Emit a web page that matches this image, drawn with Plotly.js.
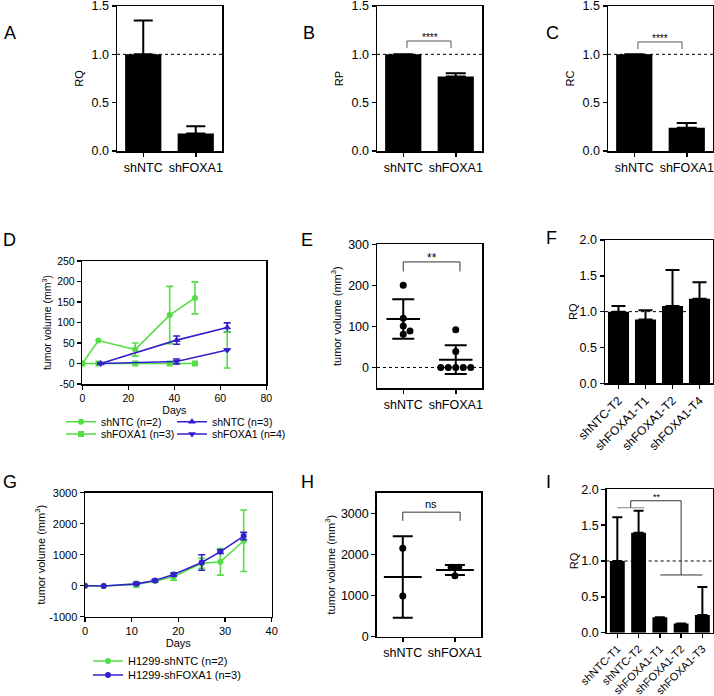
<!DOCTYPE html>
<html><head><meta charset="utf-8">
<script src="https://cdn.plot.ly/plotly-3.0.1.min.js"></script>
<style>html,body{margin:0;padding:0;background:#fff}#chart{width:714px;height:696px}</style>
</head><body><div id="chart"></div>
<script>
// ---------------- data ----------------
const catsABC = ['shNTC', 'shFOXA1'];
const rqA = [1.0, 0.18];
const rqAErr = [0.35, 0.075];
const rpB = [1.0, 0.77];
const rpBErr = [0, 0.035];
const rcC = [1.0, 0.24];
const rcCErr = [0, 0.05];
const ticksRQ = [0, 0.5, 1.0, 1.5];

const daysDgreen = [0, 7, 23, 38, 49];
const volDntc2 = [0, 56, 34, 118, 160];
const errDntc2 = [0, 0, 16, 70, 39];
const volDfoxa3 = [0, 0, 0, 0, 0];
const daysDblue = [8, 41, 63];
const volDntc3 = [0, 57, 88];
const errDntc3 = [2, 10, 11];
const volDfoxa4 = [0, 5, 33];
const errDfoxa4 = [2, 6, 44];
const namesD = ['shNTC (n=2)', 'shFOXA1 (n=3)', 'shNTC (n=3)', 'shFOXA1 (n=4)'];
const ticksDx = [0, 20, 40, 60, 80];
const ticksDy = [-50, 0, 50, 100, 150, 200, 250];

const catsEH = ['shNTC', 'shFOXA1'];
const volEntc = [200, 120, 101, 81, 89];
const volEfoxa = [92, 39, 0, 0, 0, 0, 0];
const meanE = [118, 19];
const sdE = [48, 35];
const ticksEy = [0, 100, 200, 300];

const catsF = ['shNTC-T2', 'shFOXA1-T1', 'shFOXA1-T2', 'shFOXA1-T4'];
const rqF = [1.0, 0.89, 1.08, 1.18];
const rqFErr = [0.08, 0.13, 0.50, 0.23];
const ticksF = [0, 0.5, 1.0, 1.5, 2.0];

const daysG = [0, 4, 11, 15, 19, 25, 29, 34];
const volGntc = [0, -10, 40, 150, 290, 720, 770, 1450];
const errGntc = [0, 0, 90, 40, 110, 160, 430, 990];
const volGfoxa = [0, -10, 60, 170, 360, 750, 1100, 1600];
const errGfoxa = [0, 0, 30, 40, 50, 250, 60, 120];
const namesG = ['H1299-shNTC (n=2)', 'H1299-shFOXA1 (n=3)'];
const ticksGx = [0, 10, 20, 30, 40];
const ticksGy = [-1000, 0, 1000, 2000, 3000];

const volHntc = [2150, 990];
const volHfoxa = [1690, 1690, 1480];
const meanH = [1450, 1620];
const sdH = [990, 120];
const ticksHy = [0, 1000, 2000, 3000];

const catsI = ['shNTC-T1', 'shNTC-T2', 'shFOXA1-T1', 'shFOXA1-T2', 'shFOXA1-T3'];
const rqI = [1.0, 1.395, 0.215, 0.13, 0.247];
const rqIErr = [0.61, 0.305, 0, 0, 0.39];

// ---------------- layout geometry (px) ----------------
const W = 714, H = 696;
const FONT = 'Liberation Sans, Arial, Helvetica, sans-serif';
const GREEN = '#55DD44', BLUE = '#3322CC';
const P = {
  A: [117, 222, 6, 151], B: [377, 482, 6, 151], C: [608, 713, 6, 151],
  D: [82.3, 266.3, 261, 384], E: [377, 482, 244.3, 388], F: [605, 713, 240, 383.3],
  G: [85, 271.7, 492.7, 616.7], H: [376.7, 481, 492.7, 636.7], I: [606.7, 713, 489.3, 632.7]
};
const xd = p => [p[0] / W, p[1] / W];
const yd = p => [1 - p[3] / H, 1 - p[2] / H];
const nanZero = a => a.map(v => (v > 0 ? v : NaN));

function axBase(extra) {
  return Object.assign({
    showline: true, linecolor: '#000', linewidth: 1.5, mirror: true,
    ticks: 'outside', ticklen: 4, tickwidth: 1.5, tickcolor: '#000',
    showgrid: false, zeroline: false, fixedrange: true, ticklabeloverflow: 'allow',
    tickfont: {family: FONT, size: 12.5, color: '#000'}
  }, extra);
}
function arrTicks(vals, fmt) {
  return {tickmode: 'array', tickvals: vals, ticktext: vals.map(v => fmt ? v.toFixed(fmt) : String(v))};
}
function ttl(text, size, standoff) {
  return {text: text, font: {family: FONT, size: size, color: '#000'}, standoff: standoff};
}

// beeswarm placement (pixel offsets) computed from values
function swarm(vals, pxPerUnit, d) {
  const placed = [];
  const out = new Array(vals.length).fill(0);
  const order = vals.map((v, i) => i).sort((a, b) => vals[a] - vals[b]);
  for (const i of order) {
    const y = vals[i] * pxPerUnit;
    let x = 0;
    for (let k = 0; k < 800; k++) {
      const c = (k % 2 === 1 ? 1 : -1) * Math.ceil(k / 2) * 0.25;
      if (placed.every(p => Math.hypot(p.x - c, p.y - y) >= d - 1e-6)) { x = c; break; }
    }
    placed.push({x: x, y: y});
    out[i] = x;
  }
  const groups = {};
  vals.forEach((v, i) => { (groups[v] = groups[v] || []).push(i); });
  Object.values(groups).forEach(g => {
    if (g.length > 1) { const m = g.reduce((s, i) => s + out[i], 0) / g.length; g.forEach(i => { out[i] -= m; }); }
  });
  return out;
}

const axName = n => (n === 1 ? '' : String(n));
function barTrace(cats, vals, errs, n, width, capw) {
  return {
    type: 'bar', x: cats, y: vals, xaxis: 'x' + axName(n), yaxis: 'y' + axName(n), width: width,
    marker: {color: '#000', line: {width: 0}},
    error_y: {type: 'data', symmetric: false, array: errs, arrayminus: errs.map(() => 0),
      color: '#000', thickness: 2, width: capw},
    showlegend: false, hoverinfo: 'skip'
  };
}

const traces = [];
traces.push(barTrace(catsABC, rqA, rqAErr, 1, 0.69, 9.5));
traces.push(barTrace(catsABC, rpB, rpBErr, 2, 0.69, 10));
traces.push(barTrace(catsABC, rcC, rcCErr, 3, 0.69, 10));

// D
function lineTrace(x, y, err, color, symbol, size, name, legend, n) {
  return {
    type: 'scatter', mode: 'lines+markers', x: x, y: y, name: name, legend: legend,
    xaxis: 'x' + n, yaxis: 'y' + n,
    line: {color: color, width: 1.6},
    marker: {color: color, symbol: symbol, size: size},
    error_y: {type: 'data', array: nanZero(err), color: color, thickness: 1.6, width: 3.5},
    showlegend: true, hoverinfo: 'skip'
  };
}
traces.push(lineTrace(daysDgreen, volDntc2, errDntc2, GREEN, 'circle', 6, namesD[0], 'legend', 4));
traces.push(lineTrace(daysDgreen, volDfoxa3, volDfoxa3.map(() => 0), GREEN, 'square', 6, namesD[1], 'legend2', 4));
traces.push(lineTrace(daysDblue, volDntc3, errDntc3, BLUE, 'triangle-up', 7, namesD[2], 'legend3', 4));
const lastD = daysDblue.length - 1;
traces.push(lineTrace(daysDblue, volDfoxa4, errDfoxa4.map((e, i) => (i === lastD ? 0 : e)), BLUE, 'triangle-down', 7, namesD[3], 'legend4', 4));
traces.push({
  type: 'scatter', mode: 'markers', x: [daysDblue[lastD]], y: [volDfoxa4[lastD]], xaxis: 'x4', yaxis: 'y4',
  marker: {color: BLUE, symbol: 'triangle-down', size: 7},
  error_y: {type: 'data', array: [errDfoxa4[lastD]], color: GREEN, thickness: 1.6, width: 3.5},
  showlegend: false, hoverinfo: 'skip'
});

// E
const rE = [-50, 300];
const pxYE = (P.E[3] - P.E[2]) / (rE[1] - rE[0]);
const pxXE = (P.E[1] - P.E[0]) / 2;
const offEntc = swarm(volEntc, pxYE, 7.5).map(o => o / pxXE);
const offEfoxa = swarm(volEfoxa, pxYE, 7.5).map(o => o / pxXE);
traces.push({
  type: 'scatter', mode: 'markers', xaxis: 'x5', yaxis: 'y5',
  x: offEntc.map(o => 0 + o).concat(offEfoxa.map(o => 1 + o)),
  y: volEntc.concat(volEfoxa),
  marker: {color: '#000', size: 7, symbol: 'circle'}, showlegend: false, hoverinfo: 'skip'
});
traces.push({
  type: 'scatter', mode: 'markers', xaxis: 'x5', yaxis: 'y5', x: catsEH.map((c, i) => i), y: meanE,
  marker: {symbol: 'line-ew', size: 24, color: '#000', line: {width: 2, color: '#000'}},
  error_y: {type: 'data', array: sdE, color: '#000', thickness: 2, width: 11},
  showlegend: false, hoverinfo: 'skip'
});

// F
traces.push(barTrace(catsF, rqF, rqFErr, 6, 0.78, 7));

// G
traces.push(lineTrace(daysG, volGntc, errGntc, GREEN, 'circle', 6, namesG[0], 'legend5', 7));
traces.push(lineTrace(daysG, volGfoxa, errGfoxa, BLUE, 'circle', 6, namesG[1], 'legend6', 7));

// H
const rH = [0, 3500];
const pxYH = (P.H[3] - P.H[2]) / (rH[1] - rH[0]);
const pxXH = (P.H[1] - P.H[0]) / 2;
const offHntc = swarm(volHntc, pxYH, 7.5).map(o => o / pxXH);
const offHfoxa = swarm(volHfoxa, pxYH, 7.5).map(o => o / pxXH);
traces.push({
  type: 'scatter', mode: 'markers', xaxis: 'x8', yaxis: 'y8',
  x: offHntc.map(o => 0 + o).concat(offHfoxa.map(o => 1 + o)),
  y: volHntc.concat(volHfoxa),
  marker: {color: '#000', size: 7, symbol: 'circle'}, showlegend: false, hoverinfo: 'skip'
});
traces.push({
  type: 'scatter', mode: 'markers', xaxis: 'x8', yaxis: 'y8', x: catsEH.map((c, i) => i), y: meanH,
  marker: {symbol: 'line-ew', size: 27, color: '#000', line: {width: 2, color: '#000'}},
  error_y: {type: 'data', array: sdH, color: '#000', thickness: 2, width: 10},
  showlegend: false, hoverinfo: 'skip'
});

// I
traces.push(barTrace(catsI, rqI, rqIErr, 9, 0.7, 5));

// ---------------- layout ----------------
const layout = {
  width: W, height: H, margin: {l: 0, r: 0, t: 0, b: 0},
  paper_bgcolor: '#fff', plot_bgcolor: '#fff',
  font: {family: FONT, color: '#000'}, showlegend: true,
  xaxis: axBase({domain: xd(P.A), anchor: 'y', type: 'category', range: [-0.5, 1.5]}),
  yaxis: axBase(Object.assign({domain: yd(P.A), anchor: 'x', range: [0, 1.5], title: ttl('RQ', 11, 6)}, arrTicks(ticksRQ, 1))),
  xaxis2: axBase({domain: xd(P.B), anchor: 'y2', type: 'category', range: [-0.5, 1.5]}),
  yaxis2: axBase(Object.assign({domain: yd(P.B), anchor: 'x2', range: [0, 1.5], title: ttl('RP', 11, 6)}, arrTicks(ticksRQ, 1))),
  xaxis3: axBase({domain: xd(P.C), anchor: 'y3', type: 'category', range: [-0.5, 1.5]}),
  yaxis3: axBase(Object.assign({domain: yd(P.C), anchor: 'x3', range: [0, 1.5], title: ttl('RC', 11, 6)}, arrTicks(ticksRQ, 1))),
  xaxis4: axBase(Object.assign({domain: xd(P.D), anchor: 'y4', range: [0, 80], title: ttl('Days', 10.5, 3),
    tickfont: {family: FONT, size: 10.5, color: '#000'}}, arrTicks(ticksDx))),
  yaxis4: axBase(Object.assign({domain: yd(P.D), anchor: 'x4', range: [-50, 250], title: ttl('tumor volume (mm<sup>3</sup>)', 10.5, 3),
    tickfont: {family: FONT, size: 10.5, color: '#000'}}, arrTicks(ticksDy))),
  xaxis5: axBase(Object.assign({domain: xd(P.E), anchor: 'y5', range: [-0.5, 1.5]}, {tickmode: 'array', tickvals: catsEH.map((c, i) => i), ticktext: catsEH})),
  yaxis5: axBase(Object.assign({domain: yd(P.E), anchor: 'x5', range: rE, title: ttl('tumor volume (mm<sup>3</sup>)', 11, 4)}, arrTicks(ticksEy))),
  xaxis6: axBase({domain: xd(P.F), anchor: 'y6', type: 'category', range: [-0.5, 3.5], tickangle: -45,
    tickfont: {family: FONT, size: 12, color: '#000'}}),
  yaxis6: axBase(Object.assign({domain: yd(P.F), anchor: 'x6', range: [0, 2], title: ttl('RQ', 11, 0)}, arrTicks(ticksF, 1))),
  xaxis7: axBase(Object.assign({domain: xd(P.G), anchor: 'y7', range: [0, 40], title: ttl('Days', 11, 0),
    tickfont: {family: FONT, size: 11, color: '#000'}}, arrTicks(ticksGx))),
  yaxis7: axBase(Object.assign({domain: yd(P.G), anchor: 'x7', range: [-1000, 3000], title: ttl('tumor volume (mm<sup>3</sup>)', 11, 1),
    tickfont: {family: FONT, size: 11, color: '#000'}}, arrTicks(ticksGy))),
  xaxis8: axBase(Object.assign({domain: xd(P.H), anchor: 'y8', range: [-0.5, 1.5]}, {tickmode: 'array', tickvals: catsEH.map((c, i) => i), ticktext: catsEH})),
  yaxis8: axBase(Object.assign({domain: yd(P.H), anchor: 'x8', range: rH, title: ttl('tumor volume (mm<sup>3</sup>)', 11, 3)}, arrTicks(ticksHy))),
  xaxis9: axBase({domain: xd(P.I), anchor: 'y9', type: 'category', range: [-0.5, 4.5], tickangle: -45,
    tickfont: {family: FONT, size: 11, color: '#000'}}),
  yaxis9: axBase(Object.assign({domain: yd(P.I), anchor: 'x9', range: [0, 2], title: ttl('RQ', 11, 0)}, arrTicks(ticksF, 1))),
  shapes: [], annotations: []
};

function leg(textX, rowY, size) {
  return {x: (textX - 40) / W, y: 1 - rowY / H, xanchor: 'left', yanchor: 'middle',
    bgcolor: 'rgba(0,0,0,0)', borderwidth: 0, itemwidth: 30, tracegroupgap: 0,
    font: {family: FONT, size: size, color: '#000'}};
}
layout.legend = leg(101, 421.7, 10.5);
layout.legend2 = leg(101, 434, 10.5);
layout.legend3 = leg(212, 421.7, 10.5);
layout.legend4 = leg(212, 434, 10.5);
layout.legend5 = leg(128, 661, 11);
layout.legend6 = leg(128, 675, 11);

// dotted reference lines
[['x', 'y', 1], ['x2', 'y2', 1], ['x3', 'y3', 1], ['x5', 'y5', 0], ['x6', 'y6', 1], ['x9', 'y9', 1]].forEach(d => {
  layout.shapes.push({type: 'line', xref: d[0] + ' domain', yref: d[1], x0: 0, x1: 1, y0: d[2], y1: d[2],
    line: {color: '#000', width: 1, dash: 'dot'}});
});

// significance brackets
function seg(xa, ya, x0, y0, x1, y1, color) {
  layout.shapes.push({type: 'line', xref: xa, yref: ya, x0: x0, y0: y0, x1: x1, y1: y1, line: {color: color || '#333', width: 1}});
}
function bracket(xa, ya, x0, x1, top, leg, color) {
  seg(xa, ya, x0, leg, x0, top, color); seg(xa, ya, x0, top, x1, top, color); seg(xa, ya, x1, top, x1, leg, color);
}
function sig(xa, ya, x, y, text, size, yshift) {
  layout.annotations.push({xref: xa, yref: ya, x: x, y: y, text: text, showarrow: false,
    xanchor: 'center', yanchor: 'middle', yshift: yshift, font: {family: FONT, size: size, color: '#000'}});
}
bracket('x2', 'y2', 0.07, 0.91, 1.138, 1.065, '#555'); sig('x2', 'y2', 0.5, 1.138, '****', 10, 3.5);
bracket('x3', 'y3', 0.07, 0.91, 1.128, 1.055, '#555'); sig('x3', 'y3', 0.49, 1.128, '****', 10, 3.5);
bracket('x5', 'y5', 0, 1.08, 257, 234, '#333'); sig('x5', 'y5', 0.54, 257, '**', 12, 4.3);
bracket('x8', 'y8', 0, 1.1, 3027, 2815, '#333'); sig('x8', 'y8', 0.54, 3027, 'ns', 11, 8);
seg('x9', 'y9', 0, 1.743, 1.27, 1.743, '#888');
seg('x9', 'y9', 0.63, 1.743, 0.63, 1.84, '#333');
seg('x9', 'y9', 0.63, 1.84, 3.0, 1.84, '#333');
seg('x9', 'y9', 3.0, 1.84, 3.0, 0.805, '#333');
seg('x9', 'y9', 2.02, 0.805, 4.0, 0.805, '#333');
sig('x9', 'y9', 1.85, 1.84, '**', 9, 3.5);

// panel letters
[['A', 3, 33], ['B', 302, 33], ['C', 545, 33], ['D', 2, 240], ['E', 300, 240], ['F', 545, 238],
 ['G', 2, 482], ['H', 300, 482], ['I', 545, 482]].forEach(l => {
  layout.annotations.push({xref: 'paper', yref: 'paper', x: (l[1] - 1) / W, y: 1 - l[2] / H, text: l[0],
    showarrow: false, xanchor: 'left', yanchor: 'middle', font: {family: FONT, size: 18, color: '#000'}});
});

Plotly.newPlot('chart', traces, layout, {displayModeBar: false, staticPlot: true});
</script>
</body></html>
